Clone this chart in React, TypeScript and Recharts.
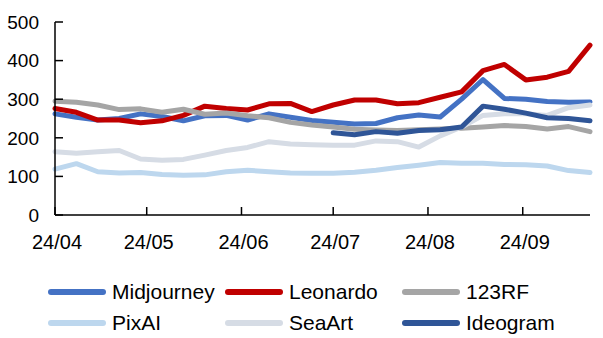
import { LineChart, Line, XAxis, YAxis, Legend } from "recharts";

// Weekly observations (Mondays), Apr–Sep 2024
const weeks = [
  "2024-04-01", "2024-04-08", "2024-04-15", "2024-04-22", "2024-04-29",
  "2024-05-06", "2024-05-13", "2024-05-20", "2024-05-27",
  "2024-06-03", "2024-06-10", "2024-06-17", "2024-06-24",
  "2024-07-01", "2024-07-08", "2024-07-15", "2024-07-22", "2024-07-29",
  "2024-08-05", "2024-08-12", "2024-08-19", "2024-08-26",
  "2024-09-02", "2024-09-09", "2024-09-16", "2024-09-23",
];

const midjourney = [262, 253, 246, 250, 262, 255, 244, 257, 258, 246, 262, 253, 245, 240, 236, 237, 252, 259, 254, 300, 351, 302, 300, 294, 292, 293];
const leonardo   = [276, 266, 246, 246, 239, 244, 258, 282, 276, 272, 288, 289, 268, 285, 298, 298, 288, 291, 305, 319, 374, 390, 350, 357, 372, 440];
const rf123      = [295, 292, 285, 273, 275, 266, 274, 261, 264, 257, 252, 240, 233, 228, 222, 220, 219, 221, 223, 225, 228, 232, 229, 223, 229, 216];
const pixai      = [119, 133, 112, 109, 110, 105, 103, 104, 112, 116, 112, 109, 108, 108, 111, 116, 123, 129, 136, 134, 134, 131, 130, 127, 115, 110];
const seaart     = [164, 160, 164, 167, 145, 142, 144, 155, 167, 175, 190, 184, 182, 181, 181, 192, 190, 176, 205, 228, 258, 262, 262, 258, 278, 285];
const ideogram   = [null, null, null, null, null, null, null, null, null, null, null, null, null, 213, 208, 216, 212, 219, 221, 228, 282, 274, 264, 252, 250, 244];

const monthStarts = ["2024-04-01", "2024-05-01", "2024-06-01", "2024-07-01", "2024-08-01", "2024-09-01"];
const yTicks = [0, 100, 200, 300, 400, 500];

const FONT = '"Liberation Sans", Arial, sans-serif';
const DAY = 86400000;
const origin = Date.parse(weeks[0]);

const dayOf = (d: string) => (Date.parse(d) - origin) / DAY;

// day offset -> "24/05"
function fmtMonth(day: number) {
  const d = new Date(origin + day * DAY);
  return `${String(d.getUTCFullYear()).slice(2)}/${String(d.getUTCMonth() + 1).padStart(2, "0")}`;
}

const series = [
  { key: "midjourney", name: "Midjourney", color: "#4472C4", values: midjourney },
  { key: "leonardo",   name: "Leonardo",   color: "#C00000", values: leonardo },
  { key: "rf123",      name: "123RF",      color: "#A5A5A5", values: rf123 },
  { key: "pixai",      name: "PixAI",      color: "#BDD7EE", values: pixai },
  { key: "seaart",     name: "SeaArt",     color: "#D6DCE5", values: seaart },
  { key: "ideogram",   name: "Ideogram",   color: "#2F5597", values: ideogram },
];

const data = weeks.map((w, i) => {
  const row: Record<string, number | null> = { day: dayOf(w) };
  series.forEach((s) => { row[s.key] = s.values[i]; });
  return row;
});

// Three-column legend, two rows
function ChartLegend() {
  return (
    <div
      style={{
        height: 77,
        boxSizing: "border-box",
        paddingTop: 15,
        paddingLeft: 48,
        display: "grid",
        gridTemplateColumns: "177px 177px 177px",
        gridAutoRows: "31px",
        fontFamily: FONT,
        fontSize: 21,
        color: "#000",
      }}
    >
      {series.map((s) => (
        <div key={s.key} style={{ display: "flex", alignItems: "center", gap: 6 }}>
          <span style={{ display: "inline-block", width: 58, height: 6, borderRadius: 3, background: s.color }} />
          <span>{s.name}</span>
        </div>
      ))}
    </div>
  );
}

export default function App() {
  return (
    <div style={{ width: 603, height: 338, background: "#fff" }}>
      <style>{"body{margin:0}"}</style>
      <LineChart width={603} height={338} data={data} margin={{ top: 22, right: 13, bottom: 0, left: 0 }}>
        <XAxis
          dataKey="day"
          type="number"
          domain={["dataMin", "dataMax"]}
          ticks={monthStarts.map(dayOf)}
          tickFormatter={fmtMonth}
          interval={0}
          height={46}
          tickSize={-8}
          tickMargin={28}
          axisLine={{ stroke: "#000", strokeWidth: 1.5 }}
          tickLine={{ stroke: "#000", strokeWidth: 1.5 }}
          tick={{ fill: "#000", fontSize: 20, fontFamily: FONT, dx: 2 }}
        />
        <YAxis
          domain={[0, 500]}
          ticks={yTicks}
          interval={0}
          width={55}
          tickSize={-8}
          tickMargin={24}
          axisLine={{ stroke: "#000", strokeWidth: 1.5 }}
          tickLine={{ stroke: "#000", strokeWidth: 1.5 }}
          tick={{ fill: "#000", fontSize: 19, fontFamily: FONT }}
        />
        <Legend verticalAlign="bottom" align="left" content={<ChartLegend />} wrapperStyle={{ left: 0, width: 603 }} />
        {series.map((s) => (
          <Line
            key={s.key}
            dataKey={s.key}
            name={s.name}
            stroke={s.color}
            strokeWidth={5}
            strokeLinecap="round"
            strokeLinejoin="round"
            dot={false}
            activeDot={false}
            isAnimationActive={false}
          />
        ))}
      </LineChart>
    </div>
  );
}
